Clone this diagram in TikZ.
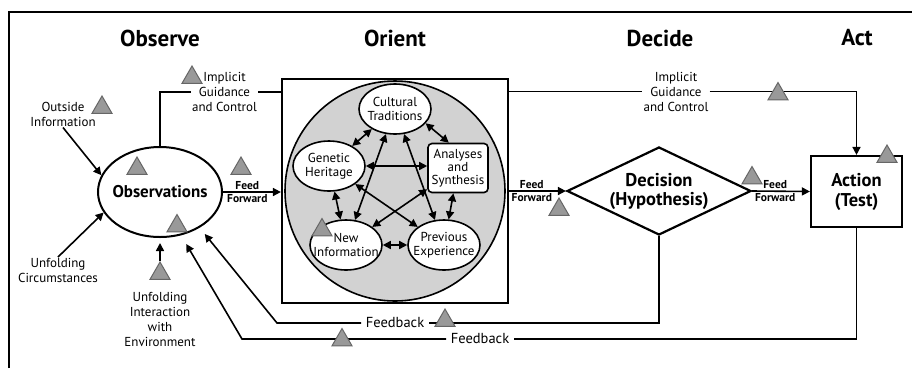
\documentclass[tikz,border=0pt]{standalone}
\usepackage{fontspec}
\setmainfont{PT Sans}
\usetikzlibrary{shapes.geometric,arrows.meta}

\begin{document}
\begin{tikzpicture}[x=1pt,y=-1pt,line width=1.6pt,
        >={Triangle[length=8pt,width=8pt]},
        phase/.style={font=\fontsize{23}{26}\selectfont\bfseries},
        side-text/.style={align=center, inner sep=0.5pt, font=\fontsize{13}{15}\selectfont},
        ff-text/.style={inner sep=1.5pt, font=\fontsize{11.5}{13}\selectfont\bfseries},
        fb-text/.style={inner sep=4pt, font=\fontsize{14.5}{16}\selectfont},
        warn/.style={regular polygon, regular polygon sides=3, fill=gray!80, draw=gray!80!black, line width=1pt, minimum size=23pt, inner sep=0pt},
        orient-ell/.style={ellipse, draw, fill=white, minimum width=72pt, minimum height=50pt, inner xsep=-14pt, inner ysep=-7pt, align=center, font=\fontsize{13}{13.5}\selectfont}]
        \useasboundingbox (0,0) rectangle (912,368);
        \draw[line width=2pt] (8.5,368) -- (8.5,12) -- (912,12);

        \node[phase] (observe) at(160,38){Observe};
        \node[phase] (orient-title) at(395,38){Orient};
        \node[phase] (decide) at(660,38){Decide};
        \node[phase] (act) at(857,38){Act};

        \node[ellipse, draw, line width=2pt, minimum width=124pt, minimum height=90pt, inner xsep=-30pt, inner ysep=0pt, font=\fontsize{17}{20}\selectfont\bfseries] (obs) at(160,192){Observations};

        \node[draw, line width=2.2pt, minimum width=226pt, minimum height=224pt] (orient) at(395,191){};
        \node[circle, draw, fill=gray!35, minimum size=220pt] (orient-circ) at(395,191){};

        \node[orient-ell] (cultural) at(395,109){Cultural\\Traditions};
        \node[orient-ell] (genetic) at(329,166){Genetic\\Heritage};
        \node[rectangle, rounded corners=4pt, draw, fill=white, minimum width=60pt, minimum height=49pt, inner sep=0pt, align=center, font=\fontsize{13}{13}\selectfont] (analyses) at(458,168){Analyses\\and\\Synthesis};
        \node[orient-ell] (new-info) at(346,245){New\\Information};
        \node[orient-ell] (previous) at(444,245){Previous\\Experience};

        \draw [<->] (cultural) -- (genetic);
        \draw [<->] (cultural.-25) -- (analyses.110);
        \draw [<->] (genetic.east) -- (genetic.east -| analyses.west);
        \draw [<->] (genetic) -- (new-info);
        \draw [<->] (analyses) -- (previous);
        \draw [<->] (new-info) -- (previous);
        \draw [<->] (cultural) -- (new-info);
        \draw [<->] (cultural) -- (previous);
        \draw [<->] (genetic) -- (previous);
        \draw [<->] (analyses) -- (new-info);

        \node[diamond, draw, line width=2.2pt, aspect=2.09, minimum width=184pt, minimum height=88pt, inner xsep=-10pt, inner ysep=-4pt, align=center, font=\fontsize{18.5}{19}\selectfont\bfseries] (decision) at(659,191){Decision\\(Hypothesis)};
        \node[rectangle, draw, line width=2.2pt, minimum width=91pt, minimum height=71pt, inner sep=0pt, align=center, font=\fontsize{18.5}{20}\selectfont\bfseries] (action) at(856.5,191.5){Action\\(Test)};

        \node[side-text] (outside) at(63,114){Outside\\Information};
        \node[side-text] (circum) at(58,270.5){Unfolding\\Circumstances};
        \node[side-text] (environment) at(160,319.5){Unfolding\\Interaction\\with\\Environment};
        \node[side-text] (igc-left) at(224.5,92){Implicit\\Guidance\\and Control};
        \node[side-text] (igc-right) at(676,91.5){Implicit\\Guidance\\and Control};

        \draw [->] (outside.south) -- (obs.164);
        \draw [->] (circum.north) -- (obs.200);

        \draw (obs.north) |- (igc-left);
        \draw (igc-left) -- (igc-left -| orient.west);
        \draw (igc-right -| orient.east) -- (igc-right);
        \draw [->] (igc-right) -| (action.north);

        \draw [->] (obs.east) -- (obs.east -| orient.west) node[ff-text, pos=0.42, above] (ff1-feed) {Feed} node[ff-text, pos=0.42, below] (ff1-forward) {Forward};
        \draw [->] (orient.east) -- (decision.west) node[ff-text, pos=0.4, above] (ff2-feed) {Feed} node[ff-text, pos=0.4, below] (ff2-forward) {Forward};
        \draw [->] (decision.east) -- (action.west) node[ff-text, pos=0.4, above] (ff3-feed) {Feed} node[ff-text, pos=0.4, below] (ff3-forward) {Forward};

        \coordinate (fb1-turn) at(277,323);
        \coordinate (fb2-turn) at(242,339);
        \node[fb-text] (fb1) at(395,323){Feedback};
        \node[fb-text] (fb2) at(480,339){Feedback};
        \draw (decision.south) |- (fb1);
        \draw [->, shorten >=8pt] (fb1) -- (fb1-turn) -- (obs.-42);
        \draw (action.south) |- (fb2);
        \draw [->, shorten >=10pt] (fb2) -- (fb2-turn) -- (obs.-64);

        \node[warn] (tri-env) at(160,273.5){};
        \draw [->, shorten >=5pt] (tri-env.corner 1) -- (obs.south);

        \node[warn] (tri-outside) at(102,107.5){};
        \node[warn] (tri-igc-left) at(192,77.5){};
        \node[warn] (tri-obs-top) at(137,168.5){};
        \node[warn] (tri-ff1) at(241,168.5){};
        \node[warn] (tri-obs-bottom) at(177,226){};
        \node[warn] (tri-new-info) at(322,230){};
        \node[warn] (tri-fb1) at(445,320.5){};
        \node[warn] (tri-fb2) at(342,340){};
        \node[warn] (tri-ff2) at(559,209.5){};
        \node[warn] (tri-ff3) at(752,178){};
        \node[warn] (tri-igc-right) at(778,94){};
        \node[warn] (tri-action) at(887,156.5){};

      \end{tikzpicture}
\end{document}
